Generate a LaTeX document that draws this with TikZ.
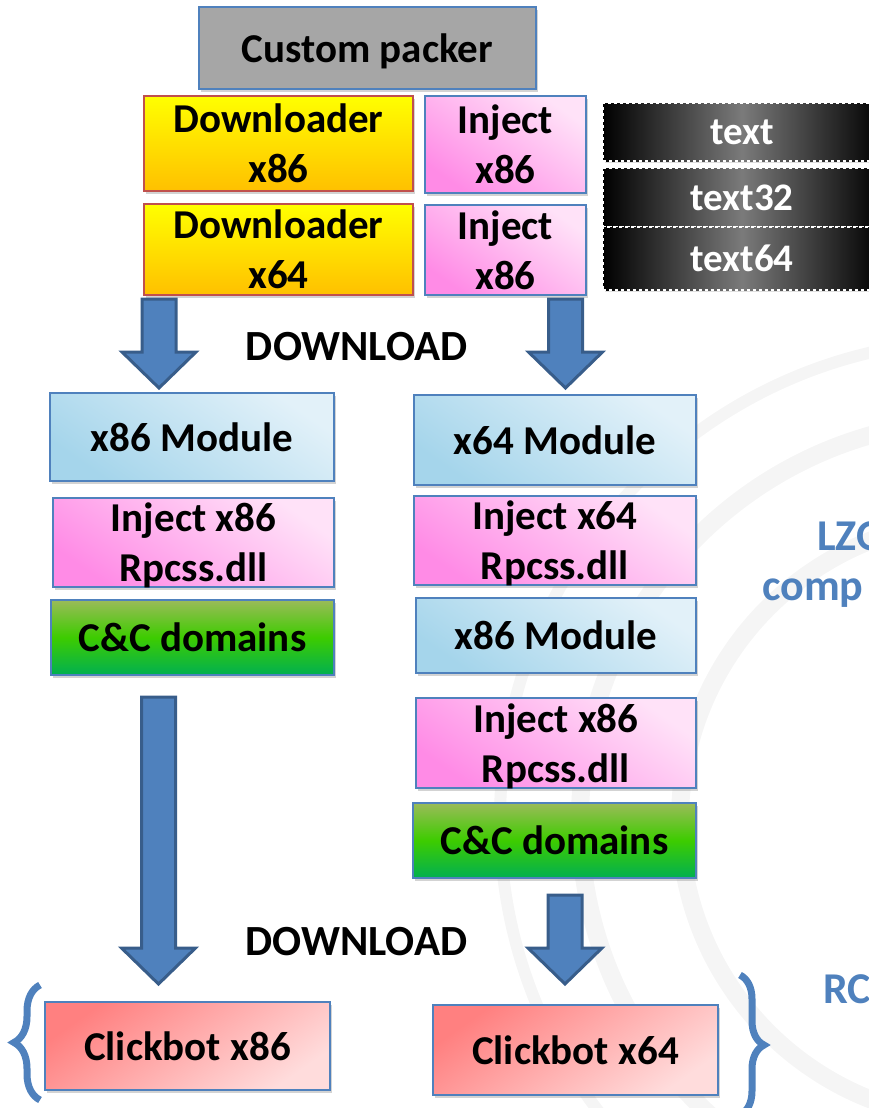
\documentclass[tikz,border=0pt]{standalone}
\usepackage{fontspec}
\setmainfont{Carlito}
\usepackage{xcolor}
\usepackage{tikz}
\usetikzlibrary{calc,shadows,decorations.pathreplacing}

\definecolor{lineblue}{HTML}{4F81BD}
\definecolor{arrowline}{HTML}{385D8A}
\definecolor{linered}{HTML}{C0504D}
\definecolor{packgray}{HTML}{A6A6A6}
\definecolor{yellowtop}{HTML}{FFFF00}
\definecolor{yellowbot}{HTML}{FFC000}
\definecolor{pinkdark}{HTML}{FF8BE6}
\definecolor{pinklight}{HTML}{FFE2F8}
\definecolor{bluedark}{HTML}{A5D5EB}
\definecolor{bluelight}{HTML}{E2F1F9}
\definecolor{greentop}{HTML}{9BBB59}
\definecolor{greenbot}{HTML}{00B050}
\definecolor{reddark}{HTML}{FF8080}
\definecolor{redlight}{HTML}{FFDCDC}

\newcommand{\dlarrow}[2]{%
  \draw[bigarrow] let \p1=(#1), \p2=(#2) in
    (\x1-17pt,\y1) -- (\x1+17pt,\y1) -- (\x1+17pt,\y2+36pt) -- (\x1+37pt,\y2+36pt)
    -- (\x1,\y2) -- (\x1-37pt,\y2+36pt) -- (\x1-17pt,\y2+36pt) -- cycle;}

\begin{document}
\begin{tikzpicture}[x=1pt, y=-1pt,
    box/.style={draw=lineblue, line width=1.5pt, inner sep=0pt, align=center,
        text depth=0pt, font=\bfseries\fontsize{41}{50}\selectfont,
        drop shadow={opacity=0.35, shadow xshift=2pt, shadow yshift=-3pt}},
    packer/.style={box, fill=packgray},
    loader/.style={box, draw=linered, top color=yellowtop, bottom color=yellowbot},
    inject/.style={box, bottom color=pinkdark, top color=pinklight, shading angle=-35},
    module/.style={box, bottom color=bluedark, top color=bluelight, shading angle=-35},
    domains/.style={box, top color=greentop, bottom color=greenbot, middle color=green!60!lime!80!black},
    clickbot/.style={box, top color=reddark, bottom color=redlight, shading angle=35},
    section/.style={draw=white, dashed, line width=1.2pt, inner sep=0pt, text=white,
        left color=black, right color=black, middle color=black!52,
        font=\bfseries\fontsize{39}{46}\selectfont,
        drop shadow={opacity=0.25, shadow xshift=2pt, shadow yshift=-2pt}},
    bigarrow/.style={fill=lineblue, draw=arrowline, line width=3pt, line join=miter},
    dltext/.style={font=\bfseries\fontsize{43}{50}\selectfont, anchor=base, inner sep=0pt},
    sidetext/.style={font=\bfseries\fontsize{44}{50}\selectfont, text=lineblue, anchor=base west, inner sep=0pt},
    curly/.style={draw=lineblue, line width=7pt, decorate},
    watermark/.style={draw=black!4, line width=18pt}]

    \clip (0,0) rectangle (869,1108);

    % faint background swirl
    \draw[watermark] (980,820) circle (300);
    \draw[watermark] (980,820) circle (400);
    \draw[watermark, line width=12pt] (980,820) circle (480);

    % packer and first stage
    \node[packer, minimum width=337, minimum height=82] (packer) at (367.5,48) {Custom packer};
    \node[loader, minimum width=269, minimum height=95] (loadA) at (278.5,143.5) {Downloader\\x86};
    \node[inject, minimum width=161, minimum height=97] (injA) at (505.5,144.5) {Inject\\x86};
    \node[loader, minimum width=269, minimum height=91] (loadB) at (278.5,249.5) {Downloader\\x64};
    \node[inject, minimum width=161, minimum height=90] (injB) at (505.5,250) {Inject\\x86};

    % sections
    \node[section, minimum width=278, minimum height=58] (secA) at (742,132) {text};
    \node[section, minimum width=278, minimum height=59] (secB) at (742,197.5) {text32};
    \node[section, minimum width=278, minimum height=63] (secC) at (742,258.5) {text64};

    % downloaded modules, left
    \node[module, minimum width=284, minimum height=88] (modA) at (192,437) {x86 Module};
    \node[inject, minimum width=281, minimum height=89] (rpcA) at (193.5,542.5) {Inject x86\\Rpcss.dll};
    \node[domains, minimum width=283, minimum height=75] (ccA) at (192.5,637.5) {C\&C domains};

    % downloaded modules, right
    \node[module, minimum width=282, minimum height=90] (modB) at (555,440) {x64 Module};
    \node[inject, minimum width=282, minimum height=89] (rpcB) at (555,540.5) {Inject x64\\Rpcss.dll};
    \node[module, minimum width=280, minimum height=75] (modC) at (556,635.5) {x86 Module};
    \node[inject, minimum width=280, minimum height=90] (rpcC) at (556,743) {Inject x86\\Rpcss.dll};
    \node[domains, minimum width=283, minimum height=75] (ccB) at (554.5,840.5) {C\&C domains};

    % clickbots
    \node[clickbot, minimum width=285, minimum height=88] (botA) at (187.5,1046) {Clickbot x86};
    \node[clickbot, minimum width=285, minimum height=90] (botB) at (575.5,1050) {Clickbot x64};

    % arrows
    \coordinate (arrA-top) at (159,299);
    \coordinate (arrA-tip) at (159,388);
    \coordinate (arrB-top) at (565.5,299);
    \coordinate (arrB-tip) at (565.5,388);
    \coordinate (arrC-top) at (158.5,697);
    \coordinate (arrC-tip) at (158.5,984);
    \coordinate (arrD-top) at (565,895);
    \coordinate (arrD-tip) at (565,984);
    \dlarrow{arrA-top}{arrA-tip}
    \dlarrow{arrB-top}{arrB-tip}
    \dlarrow{arrC-top}{arrC-tip}
    \dlarrow{arrD-top}{arrD-tip}

    \node[dltext] (dlA) at (357,360) {DOWNLOAD};
    \node[dltext] (dlB) at (356.5,955) {DOWNLOAD};

    % side notes
    \node[sidetext] (lzo) at (817,550) {LZO};
    \node[sidetext] (comp) at (762,600) {comp};
    \node[sidetext] (rc) at (823,1003) {RC};

    % braces
    \coordinate (brA-bot) at (40,1100);
    \coordinate (brA-top) at (40,985);
    \coordinate (brB-top) at (740,975);
    \coordinate (brB-bot) at (740,1115);
    \draw[curly, decoration={brace, amplitude=26pt}] (brA-bot) -- (brA-top);
    \draw[curly, decoration={brace, amplitude=24pt}] (brB-top) -- (brB-bot);
\end{tikzpicture}
\end{document}
